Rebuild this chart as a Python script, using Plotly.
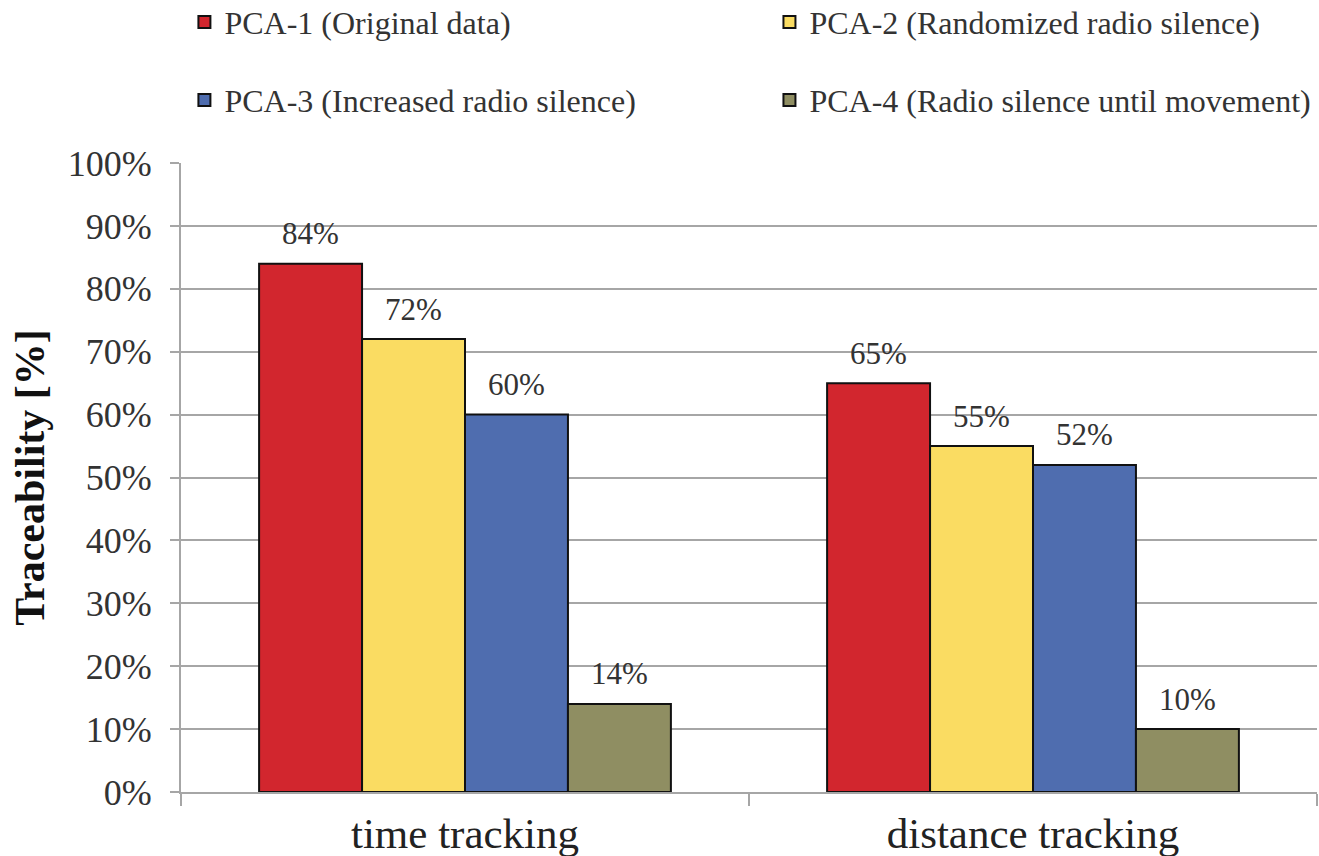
import plotly.graph_objects as go

categories = ["time tracking", "distance tracking"]
series_names = [
    "PCA-1 (Original data)",
    "PCA-2 (Randomized radio silence)",
    "PCA-3 (Increased radio silence)",
    "PCA-4 (Radio silence until movement)",
]
pca1 = [84, 65]
pca2 = [72, 55]
pca3 = [60, 52]
pca4 = [14, 10]
y_ticks = [0, 10, 20, 30, 40, 50, 60, 70, 80, 90, 100]

series_values = [pca1, pca2, pca3, pca4]
colors = ["#D2262E", "#FADC62", "#4F6DAF", "#8F8E62"]

FONT = "Liberation Serif, Times New Roman, Times, DejaVu Serif, serif"
BARGAP = 0.275

# one legend per entry so the 2x2 arrangement can be placed freely
legend_ids = ["legend", "legend2", "legend3", "legend4"]
legend_pos = [(0.003, 1.224), (0.518, 1.224), (0.003, 1.100), (0.518, 1.100)]

fig = go.Figure()
for name, vals, col, lg in zip(series_names, series_values, colors, legend_ids):
    fig.add_trace(go.Bar(
        x=categories, y=[v / 100 for v in vals], name=name,
        marker=dict(color=col, line=dict(color="#111111", width=2)),
        legend=lg,
    ))

# value labels above each bar
n = len(series_values)
bar_w = (1 - BARGAP) / n
for si, vals in enumerate(series_values):
    off = -(1 - BARGAP) / 2 + bar_w * (si + 0.5)
    for ci, v in enumerate(vals):
        fig.add_annotation(
            x=ci + off, y=v / 100, xref="x", yref="y",
            text=f"{v}%", showarrow=False, yanchor="middle", yshift=30,
            font=dict(family=FONT, size=31, color="#333333"),
        )

legend_layouts = {}
for lg, (lx, ly) in zip(legend_ids, legend_pos):
    legend_layouts[lg] = dict(
        orientation="h", x=lx, y=ly, xanchor="left", yanchor="middle",
        font=dict(family=FONT, size=32, color="#333333"),
        bgcolor="rgba(0,0,0,0)",
    )

grid_col = "#A6A6A6"
fig.update_layout(
    width=1319, height=856,
    margin=dict(l=181, r=2, t=163, b=64, autoexpand=False),
    paper_bgcolor="white", plot_bgcolor="white",
    barmode="group", bargap=BARGAP, bargroupgap=0,
    font=dict(family=FONT, color="#333333"),
    showlegend=True,
    xaxis=dict(
        showline=True, linecolor=grid_col, linewidth=2,
        ticks="outside", tickson="boundaries", ticklen=12, tickcolor=grid_col, tickwidth=2,
        tickfont=dict(family=FONT, size=43, color="#222222"),
        showgrid=False, ticklabelstandoff=2,
    ),
    yaxis=dict(
        range=[0, 1], tickvals=[t / 100 for t in y_ticks],
        ticktext=[f"{t}%" for t in y_ticks],
        showline=True, linecolor=grid_col, linewidth=2,
        ticks="outside", ticklen=9, tickcolor=grid_col, tickwidth=2,
        showgrid=True, gridcolor=grid_col, gridwidth=2,
        tickfont=dict(family=FONT, size=36, color="#333333"),
        ticklabelstandoff=11,
        title=dict(text="<b>Traceability [%]</b>", standoff=10,
                   font=dict(family=FONT, size=42, color="#111111")),
    ),
    **legend_layouts,
)

fig.write_html("out.html")
